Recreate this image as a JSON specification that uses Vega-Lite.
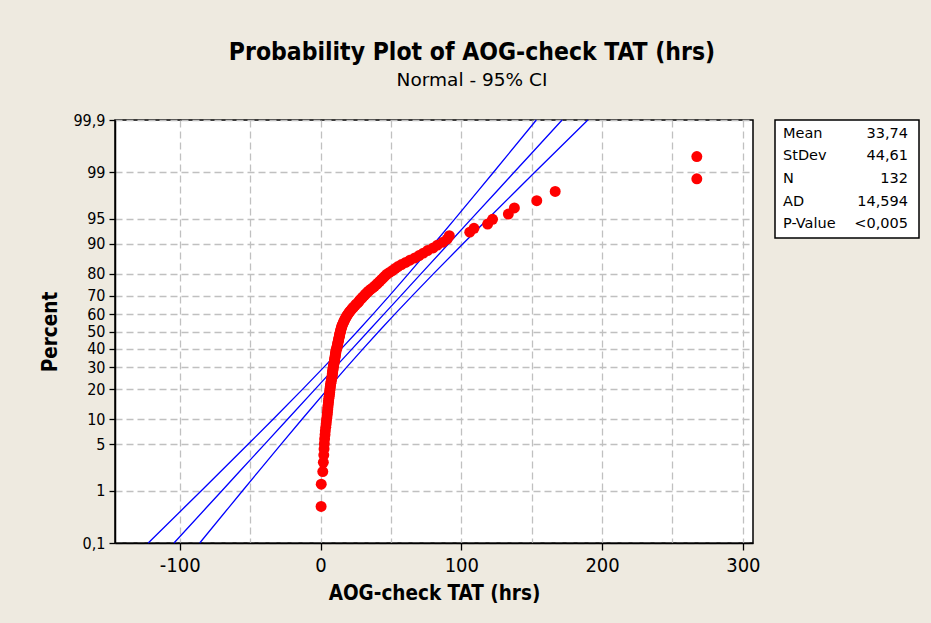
{
  "$schema": "https://vega.github.io/schema/vega-lite/v6.json",
  "background": "#EEEAE0",
  "padding": {"left": 40, "top": 40, "right": 15, "bottom": 36},
  "bounds": "flush",
  "spacing": 22,
  "title": {
    "text": "Probability Plot of AOG-check TAT (hrs)",
    "subtitle": "Normal - 95% CI",
    "anchor": "middle",
    "dx": -8,
    "font": "DejaVu Sans Condensed",
    "fontSize": 24.5,
    "fontWeight": "bold",
    "color": "black",
    "subtitleFont": "DejaVu Sans",
    "subtitleFontSize": 18.5,
    "subtitleColor": "black",
    "subtitlePadding": 5,
    "offset": 21
  },
  "datasets": {
    "pts": [
      {"pct":0.529,"x":0.4},{"pct":1.284,"x":0.5},{"pct":2.039,"x":1.6},{"pct":2.795,"x":2.0},{"pct":3.550,"x":2.3},
      {"pct":4.305,"x":2.5},{"pct":5.060,"x":2.7},{"pct":5.816,"x":2.9},{"pct":6.571,"x":3.2},{"pct":7.326,"x":3.4},
      {"pct":8.082,"x":3.7},{"pct":8.837,"x":4.0},{"pct":9.592,"x":4.2},{"pct":10.347,"x":4.5},{"pct":11.103,"x":4.7},
      {"pct":11.858,"x":4.9},{"pct":12.613,"x":5.1},{"pct":13.369,"x":5.2},{"pct":14.124,"x":5.4},{"pct":14.879,"x":5.6},
      {"pct":15.634,"x":5.7},{"pct":16.390,"x":5.9},{"pct":17.145,"x":6.1},{"pct":17.900,"x":6.3},{"pct":18.656,"x":6.5},
      {"pct":19.411,"x":6.6},{"pct":20.166,"x":6.8},{"pct":20.921,"x":6.9},{"pct":21.677,"x":7.1},{"pct":22.432,"x":7.3},
      {"pct":23.187,"x":7.5},{"pct":23.943,"x":7.7},{"pct":24.698,"x":8.0},{"pct":25.453,"x":8.2},{"pct":26.208,"x":8.3},
      {"pct":26.964,"x":8.4},{"pct":27.719,"x":8.6},{"pct":28.474,"x":8.7},{"pct":29.230,"x":8.9},{"pct":29.985,"x":9.0},
      {"pct":30.740,"x":9.2},{"pct":31.495,"x":9.4},{"pct":32.251,"x":9.6},{"pct":33.006,"x":9.8},{"pct":33.761,"x":10.0},
      {"pct":34.517,"x":10.1},{"pct":35.272,"x":10.3},{"pct":36.027,"x":10.4},{"pct":36.782,"x":10.6},{"pct":37.538,"x":10.7},
      {"pct":38.293,"x":10.9},{"pct":39.048,"x":11.0},{"pct":39.804,"x":11.3},{"pct":40.559,"x":11.6},{"pct":41.314,"x":11.8},
      {"pct":42.069,"x":12.0},{"pct":42.825,"x":12.2},{"pct":43.580,"x":12.4},{"pct":44.335,"x":12.6},{"pct":45.091,"x":12.8},
      {"pct":45.846,"x":13.0},{"pct":46.601,"x":13.2},{"pct":47.356,"x":13.4},{"pct":48.112,"x":13.6},{"pct":48.867,"x":13.8},
      {"pct":49.622,"x":14.0},{"pct":50.378,"x":14.3},{"pct":51.133,"x":14.5},{"pct":51.888,"x":14.7},{"pct":52.644,"x":15.0},
      {"pct":53.399,"x":15.3},{"pct":54.154,"x":15.7},{"pct":54.909,"x":16.1},{"pct":55.665,"x":16.5},{"pct":56.420,"x":16.9},
      {"pct":57.175,"x":17.4},{"pct":57.931,"x":17.9},{"pct":58.686,"x":18.4},{"pct":59.441,"x":19.0},{"pct":60.196,"x":19.6},
      {"pct":60.952,"x":20.3},{"pct":61.707,"x":21.0},{"pct":62.462,"x":21.8},{"pct":63.218,"x":22.6},{"pct":63.973,"x":23.5},
      {"pct":64.728,"x":24.5},{"pct":65.483,"x":25.3},{"pct":66.239,"x":26.5},{"pct":66.994,"x":27.3},{"pct":67.749,"x":28.0},
      {"pct":68.505,"x":29.0},{"pct":69.260,"x":30.0},{"pct":70.015,"x":31.0},{"pct":70.770,"x":32.0},{"pct":71.526,"x":33.0},
      {"pct":72.281,"x":34.2},{"pct":73.036,"x":35.5},{"pct":73.792,"x":37.0},{"pct":74.547,"x":38.3},{"pct":75.302,"x":39.6},
      {"pct":76.057,"x":40.8},{"pct":76.813,"x":42.0},{"pct":77.568,"x":43.2},{"pct":78.323,"x":44.5},{"pct":79.079,"x":45.7},
      {"pct":79.834,"x":47.0},{"pct":80.589,"x":49.0},{"pct":81.344,"x":51.0},{"pct":82.100,"x":53.0},{"pct":82.855,"x":55.0},
      {"pct":83.610,"x":57.5},{"pct":84.366,"x":60.5},{"pct":85.121,"x":63.5},{"pct":85.876,"x":67.0},{"pct":86.631,"x":70.0},
      {"pct":87.387,"x":73.0},{"pct":88.142,"x":76.0},{"pct":88.897,"x":80.0},{"pct":89.653,"x":83.0},{"pct":90.408,"x":87.0},
      {"pct":91.163,"x":90.0},{"pct":91.918,"x":91.5},{"pct":92.674,"x":106.0},{"pct":93.429,"x":109.0},{"pct":94.184,"x":118.7},
      {"pct":94.940,"x":122.2},{"pct":95.695,"x":133.4},{"pct":96.450,"x":137.7},{"pct":97.205,"x":153.6},{"pct":97.961,"x":166.7},
      {"pct":98.716,"x":267.3},{"pct":99.471,"x":267.3}
    ],
    "ci": [
      {"pct":0.1,"lo":-122.40,"fit":-104.11,"hi":-85.82},
      {"pct":0.5,"lo":-96.98,"fit":-81.17,"hi":-65.36},
      {"pct":1,"lo":-84.69,"fit":-70.04,"hi":-55.39},
      {"pct":2,"lo":-71.30,"fit":-57.88,"hi":-44.46},
      {"pct":5,"lo":-51.31,"fit":-39.64,"hi":-27.97},
      {"pct":10,"lo":-33.70,"fit":-23.43,"hi":-13.16},
      {"pct":20,"lo":-12.66,"fit":-3.80,"hi":5.06},
      {"pct":30,"lo":2.23,"fit":10.35,"hi":18.47},
      {"pct":40,"lo":14.71,"fit":22.44,"hi":30.17},
      {"pct":50,"lo":26.13,"fit":33.74,"hi":41.35},
      {"pct":60,"lo":37.31,"fit":45.04,"hi":52.77},
      {"pct":70,"lo":49.01,"fit":57.13,"hi":65.25},
      {"pct":80,"lo":62.42,"fit":71.28,"hi":80.14},
      {"pct":90,"lo":80.64,"fit":90.91,"hi":101.18},
      {"pct":95,"lo":95.45,"fit":107.12,"hi":118.79},
      {"pct":98,"lo":111.94,"fit":125.36,"hi":138.78},
      {"pct":99,"lo":122.87,"fit":137.52,"hi":152.17},
      {"pct":99.5,"lo":132.84,"fit":148.65,"hi":164.46},
      {"pct":99.9,"lo":153.30,"fit":171.59,"hi":189.88}
    ],
    "stats": [
      {"label":"Mean","value":"33,74"},
      {"label":"StDev","value":"44,61"},
      {"label":"N","value":"132"},
      {"label":"AD","value":"14,594"},
      {"label":"P-Value","value":"<0,005"}
    ]
  },
  "config": {
    "font": "DejaVu Sans Condensed",
    "view": {"stroke": "black", "strokeWidth": 1.5, "fill": "white"},
    "axis": {
      "domainColor": "black", "domainWidth": 1.5,
      "tickColor": "black", "tickWidth": 1.3,
      "labelColor": "black", "titleColor": "black",
      "gridColor": "#C0C0C0", "gridDash": [7, 4], "gridWidth": 1.3,
      "labelOverlap": false, "labelFlush": false
    }
  },
  "hconcat": [
    {
      "width": 638,
      "height": 423,
      "encoding": {
        "x": {
          "field": "x", "type": "quantitative",
          "scale": {"domain": [-146, 307.2], "nice": false, "zero": false},
          "axis": {
            "title": "AOG-check TAT (hrs)",
            "values": [-100, -50, 0, 50, 100, 150, 200, 250, 300],
            "labelExpr": "datum.value % 100 === 0 ? '' + datum.value : ''",
            "tickColor": {"condition": {"test": "datum.value % 100 !== 0", "value": "transparent"}, "value": "black"},
            "tickSize": 7, "labelFontSize": 20, "labelPadding": 5,
            "titleFontSize": 20.5, "titleFontWeight": "bold", "titlePadding": 8
          }
        },
        "y": {
          "field": "z", "type": "quantitative",
          "scale": {"domain": [-3.0902, 3.0902], "nice": false, "zero": false},
          "axis": {
            "title": "Percent",
            "values": [-3.0902, -2.3263, -1.6449, -1.2816, -0.8416, -0.5244, -0.2533, 0, 0.2533, 0.5244, 0.8416, 1.2816, 1.6449, 2.3263, 3.0902],
            "labelExpr": "replace(format(cumulativeNormal(datum.value) * 100, '.3~'), '.', ',')",
            "tickSize": 6, "labelFontSize": 16, "labelPadding": 4,
            "titleFontSize": 20.5, "titleFontWeight": "bold", "titlePadding": 12
          }
        }
      },
      "layer": [
        {
          "data": {"name": "ci"},
          "transform": [
            {"fold": ["lo", "fit", "hi"], "as": ["series", "x"]},
            {"calculate": "quantileNormal(datum.pct / 100)", "as": "z"}
          ],
          "mark": {"type": "line", "color": "#0000FF", "strokeWidth": 1.3},
          "encoding": {
            "detail": {"field": "series", "type": "nominal"},
            "order": {"field": "pct", "type": "quantitative"}
          }
        },
        {
          "data": {"name": "pts"},
          "transform": [
            {"calculate": "quantileNormal(datum.pct / 100)", "as": "z"}
          ],
          "mark": {"type": "circle", "color": "#FF0000", "opacity": 1, "size": 120}
        }
      ]
    },
    {
      "width": 144,
      "height": 118,
      "data": {"name": "stats"},
      "encoding": {
        "y": {"field": "label", "type": "ordinal", "sort": null, "scale": {"type": "point", "padding": 0.6}, "axis": null}
      },
      "layer": [
        {
          "mark": {"type": "text", "align": "left", "baseline": "middle", "dx": 8, "font": "DejaVu Sans", "fontSize": 14.5, "color": "black"},
          "encoding": {
            "x": {"datum": 0, "type": "quantitative", "scale": {"domain": [0, 1]}, "axis": null},
            "text": {"field": "label"}
          }
        },
        {
          "mark": {"type": "text", "align": "right", "baseline": "middle", "dx": -11, "font": "DejaVu Sans", "fontSize": 14.5, "color": "black"},
          "encoding": {
            "x": {"datum": 1, "type": "quantitative", "scale": {"domain": [0, 1]}, "axis": null},
            "text": {"field": "value"}
          }
        }
      ]
    }
  ]
}
